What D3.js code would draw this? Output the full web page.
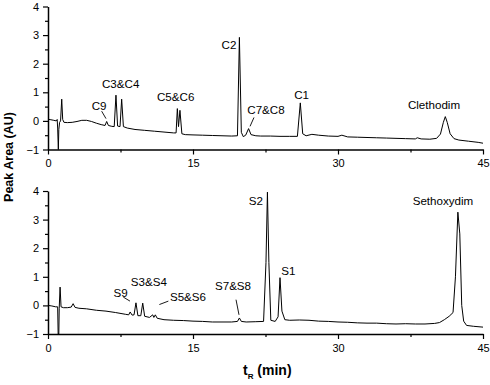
<!DOCTYPE html>
<html><head><meta charset="utf-8">
<script src="https://cdn.jsdelivr.net/npm/d3@7"></script>
<style>body{margin:0;background:#fff}svg{display:block}</style>
</head><body>
<svg id="c" width="490" height="385"></svg>
<script>
// ---- data ----
const xTicks = [0, 15, 30, 45];
const xMinor = [7.5, 22.5, 37.5];
const yTicks = [-1, 0, 1, 2, 3, 4];
const yMinor = [-0.5, 0.5, 1.5, 2.5, 3.5];

// Clethodim chromatogram (time min, peak area AU)
const clethodimT = [0,0.3,0.6,0.85,0.95,1.0,1.07,1.12,1.2,1.3,1.42,1.52,1.65,2.0,2.5,3.0,3.5,4.0,4.5,5.0,5.5,5.9,6.07,6.25,6.6,6.85,7.03,7.2,7.45,7.62,7.8,8.2,9,10,11,12,13,13.25,13.38,13.5,13.65,13.85,14.2,15,16,17,18,19,19.6,19.8,20.0,20.2,20.45,20.75,21.0,21.5,22,23,24,25,25.8,26.1,26.35,26.7,27.3,28,29,30,30.4,31,32,33,34,35,36,37,38,38.2,38.6,39.5,40.2,40.6,40.9,41.1,41.3,41.6,42,42.5,43.5,44.5,45];
const clethodimV = [0.06,0.04,0.02,0.0,0.05,-0.25,-1.0,-0.3,-0.05,0.0,0.76,0.05,-0.05,-0.06,-0.05,-0.02,0.02,0.02,-0.02,-0.08,-0.13,-0.16,-0.02,-0.16,-0.19,-0.2,0.9,-0.18,-0.2,0.76,-0.2,-0.25,-0.3,-0.33,-0.36,-0.39,-0.42,-0.42,0.43,-0.2,0.37,-0.45,-0.48,-0.49,-0.5,-0.51,-0.52,-0.53,-0.52,2.92,-0.4,-0.55,-0.5,-0.27,-0.48,-0.52,-0.53,-0.53,-0.54,-0.54,-0.54,0.63,-0.45,-0.52,-0.47,-0.5,-0.53,-0.54,-0.5,-0.56,-0.57,-0.58,-0.59,-0.6,-0.61,-0.62,-0.63,-0.59,-0.63,-0.64,-0.61,-0.46,-0.05,0.15,-0.05,-0.45,-0.62,-0.67,-0.71,-0.75,-0.78];

// Sethoxydim chromatogram
const sethoxydimT = [0,0.4,0.8,1.0,1.05,1.12,1.16,1.25,1.35,1.6,2.0,2.4,2.6,2.8,3.2,4,5,6,7,8,8.35,8.5,8.7,8.9,9.1,9.3,9.6,9.8,10.0,10.5,10.83,10.95,11.1,11.3,12,13,14,15,16,17,18,19,19.6,19.8,20.0,20.5,21.5,22.3,22.55,22.7,22.85,23.05,23.5,23.8,24.0,24.2,24.5,25,26,27,28,29,30,31,32,33,34,35,36,37,38,39,40,40.5,41,41.5,41.9,42.15,42.4,42.6,42.8,43.0,43.3,44,45];
const sethoxydimV = [0.0,-0.02,-0.05,-0.05,-1.0,-1.0,-0.1,0.64,-0.05,-0.08,-0.08,-0.06,0.06,-0.07,-0.1,-0.12,-0.17,-0.2,-0.25,-0.31,-0.33,-0.23,-0.34,-0.33,0.09,-0.36,-0.36,0.08,-0.38,-0.42,-0.33,-0.42,-0.33,-0.45,-0.5,-0.52,-0.53,-0.55,-0.56,-0.58,-0.58,-0.58,-0.56,-0.44,-0.56,-0.58,-0.57,-0.56,1.5,3.96,1.5,-0.52,-0.56,-0.4,0.97,-0.2,-0.5,-0.52,-0.51,-0.52,-0.55,-0.56,-0.58,-0.59,-0.61,-0.62,-0.62,-0.64,-0.65,-0.64,-0.65,-0.65,-0.63,-0.6,-0.5,-0.38,-0.25,1.0,3.26,2.5,0.0,-0.55,-0.7,-0.73,-0.76];

// peak labels (text, t, v) and leader lines (t1, v1, t2, v2)
const topLabels = [["C9",5.28,0.37],["C3&C4",7.52,1.16],["C5&C6",13.21,0.69],["C2",18.72,2.5],["C7&C8",22.55,0.23],["C1",26.24,0.78],["Clethodim",39.93,0.40]];
const topLeaders = [[5.55,0.34,6.0,0.08],[21.31,0.12,20.9,-0.19]];
const botLabels = [["S9",7.52,0.28],["S3&S4",10.43,0.67],["S5&S6",14.48,0.14],["S7&S8",19.14,0.55],["S2",21.5,3.5],["S1",24.86,1.08],["Sethoxydim",40.86,3.52]];
const botLeaders = [[7.79,0.29,8.48,0.15],[11.52,0.03,12.45,0.15],[19.45,0.2,19.76,-0.33]];

const yLabel = "Peak Area (AU)";
const xLabelMain = "t";
const xLabelSub = "R";
const xLabelUnit = " (min)";

// ---- drawing ----
const svg = d3.select("#c");
const font = "'Liberation Sans', Arial, sans-serif";
const x = d3.scaleLinear().domain([0,45]).range([48,483]);

function panel(yTop, yBot, T, V, labels, leaders){
  const y = d3.scaleLinear().domain([-1,4]).range([yBot, yTop]);
  const g = svg.append("g");
  // minor ticks
  g.append("g").attr("transform",`translate(48,0)`)
    .call(d3.axisLeft(y).tickValues(yMinor).tickSize(3).tickFormat(""))
    .call(a=>a.select(".domain").remove());
  g.append("g").attr("transform",`translate(0,${yBot})`)
    .call(d3.axisBottom(x).tickValues(xMinor).tickSize(3).tickFormat(""))
    .call(a=>a.select(".domain").remove());
  const ya = g.append("g").attr("transform",`translate(48,0)`)
    .call(d3.axisLeft(y).tickValues(yTicks).tickSize(5).tickSizeOuter(0).tickPadding(4).tickFormat(d3.format("d")));
  const xa = g.append("g").attr("transform",`translate(0,${yBot})`)
    .call(d3.axisBottom(x).tickValues(xTicks).tickSize(5).tickSizeOuter(0).tickPadding(5));
  g.selectAll(".tick line").attr("stroke","#000").attr("stroke-width",1.2);
  g.selectAll(".domain").attr("stroke","#000").attr("stroke-width",1.5);
  g.selectAll(".tick text").attr("font-family",font).attr("font-size",11).attr("fill","#000");
  // trace
  const pts = T.map((t,i)=>[t,V[i]]);
  g.append("path").datum(pts)
    .attr("d", d3.line().x(d=>x(d[0])).y(d=>y(d[1])))
    .attr("fill","none").attr("stroke","#000").attr("stroke-width",1).attr("stroke-linejoin","round");
  g.selectAll(".lbl").data(labels).enter().append("text")
    .attr("x",d=>x(d[1])).attr("y",d=>y(d[2]))
    .attr("text-anchor","middle").attr("font-family",font).attr("font-size",11.6).attr("fill","#000")
    .text(d=>d[0]);
  g.selectAll(".ldr").data(leaders).enter().append("line")
    .attr("x1",d=>x(d[0])).attr("y1",d=>y(d[1])).attr("x2",d=>x(d[2])).attr("y2",d=>y(d[3]))
    .attr("stroke","#000").attr("stroke-width",0.9);
}

panel(6.5, 149.5, clethodimT, clethodimV, topLabels, topLeaders);
panel(191, 334, sethoxydimT, sethoxydimV, botLabels, botLeaders);

svg.append("text").attr("transform","translate(13,157) rotate(-90)")
  .attr("text-anchor","middle").attr("font-family",font).attr("font-weight","bold").attr("font-size",12.5)
  .text(yLabel);
const xl = svg.append("text").attr("x",243).attr("y",375)
  .attr("font-family",font).attr("font-weight","bold").attr("font-size",14);
xl.append("tspan").text(xLabelMain);
xl.append("tspan").attr("font-size",8).attr("dy",4).text(xLabelSub);
xl.append("tspan").attr("dy",-4).text(xLabelUnit);
</script>
</body></html>
